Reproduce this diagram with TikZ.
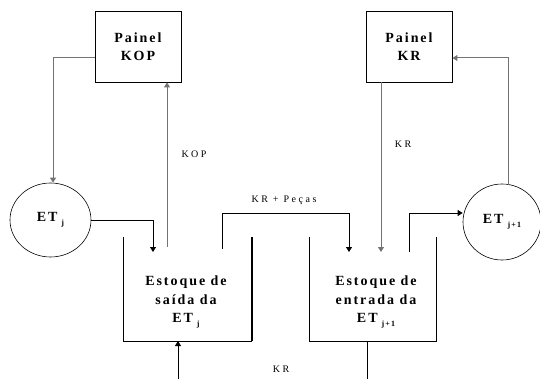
\documentclass[tikz,border=0pt]{standalone}
\usepackage{fontspec}
\setmainfont{Liberation Serif}
\newfontfamily\spaced[LetterSpace=14]{Liberation Serif}
\newfontfamily\lblspaced[LetterSpace=25]{Liberation Serif}
\usetikzlibrary{arrows.meta,shapes.geometric}
\newcommand{\subj}[1]{\hspace{4pt}\raisebox{-4pt}{\fontsize{8}{9}\selectfont #1}}
\tikzset{
  panel/.style={draw, line width=0.9pt, minimum width=86pt, minimum height=71pt, inner sep=0pt,
    align=center, font=\spaced\bfseries\fontsize{14}{17.5}\selectfont},
  station/.style={ellipse, draw, line width=0.6pt, inner sep=0pt, font=\spaced\bfseries\fontsize{14}{16}\selectfont},
  stocktext/.style={align=center, inner sep=0pt, font=\spaced\bfseries\fontsize{14}{18.5}\selectfont},
  lbl/.style={inner sep=0pt, font=\lblspaced\fontsize{10}{11}\selectfont},
  grayline/.style={draw=black!55, line width=1pt},
  blackline/.style={draw=black, line width=0.9pt},
  wall/.style={draw=black, line width=1pt},
  tip/.style={-{Triangle[length=5pt,width=6pt]}}
}
\begin{document}
\begin{tikzpicture}[x=1pt,y=-1pt]
\useasboundingbox (0,0) rectangle (540,379);
% panels
\node[panel] (kop) at (138,46.5) {Painel\\KOP};
\node[panel] (kr) at (409,46.5) {Painel\\KR};
% stations
\node[station, minimum width=81pt, minimum height=74pt] (etj) at (50.5,220) {ET\subj{j}};
\node[station, minimum width=78pt, minimum height=76pt] (etj1) at (502,222) {ET\subj{j+1}};
% stocks
\draw[wall] (123,237) -- (123,341) -- (252,341);
\draw[wall, line width=1.4pt] (252,341) -- (252,237);
\draw[wall] (309,237) -- (309,341) -- (436,341) -- (436,237);
\node[stocktext] (sout) at (186,302) {Estoque de\\sa\'ida da\\ET\subj{j}};
\node[stocktext] (sin) at (376,302) {Estoque de\\entrada da\\ET\subj{j+1}};
% coordinates
\coordinate (kopstart) at (167,247);
\coordinate (etjin) at (153,252);
\coordinate (lbot) at (178,379);
\coordinate (lbotend) at (178,341);
\coordinate (kpout) at (222,249);
\coordinate (kpin) at (349,252);
\coordinate (krin) at (381,252);
\coordinate (rout) at (409,252);
\coordinate (rstem) at (367,341);
\coordinate (rbot) at (367,379);
\coordinate (etj1top) at (508,185);
% connectors
\draw[grayline, tip] ([yshift=-11.5pt]kop.west) -| ([xshift=2.5pt]etj.north);
\draw[grayline, tip] (kopstart) -- (kopstart |- kop.south);
\draw[blackline, tip] (etj.east) -| (etjin);
\draw[blackline, tip] (lbot) -- (lbotend);
\draw[blackline, tip] (kpout) -- (222,213) -| (kpin);
\draw[grayline, tip] (krin |- kr.south) -- (krin);
\draw[blackline, tip] (rout) -- (409,213) -- (etj1.west |- 0,213);
\draw[blackline] (rstem) -- (rbot);
\draw[grayline, tip] (etj1top) -- (508,58) -- (kr.east |- 0,58);
% labels
\node[lbl] (lkop) at (194,154) {KOP};
\node[lbl] (lkr) at (403,144) {KR};
\node[lbl] (lkrp) at (284,200) {KR + Pe\c{c}as};
\node[lbl] (lkrb) at (281,369) {KR};
\end{tikzpicture}
\end{document}
